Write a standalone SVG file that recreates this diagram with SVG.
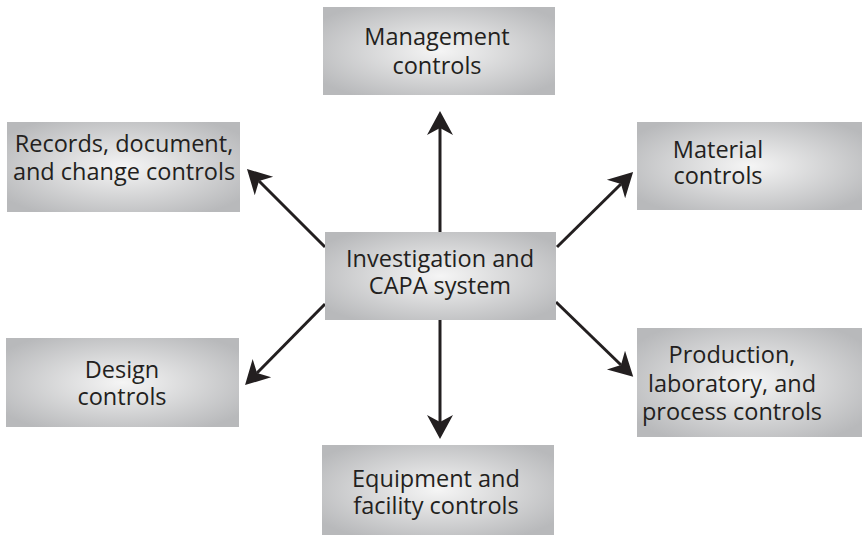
<svg xmlns="http://www.w3.org/2000/svg" width="865" height="535" viewBox="0 0 865 535">
<style>
.box{fill:url(#g);}
.t{font-family:"Open Sans","Noto Sans","Liberation Sans",sans-serif;font-size:23.5px;fill:#231f20;text-anchor:middle;}
.c{stroke:#231f20;stroke-width:3;fill:none;marker-end:url(#ah);}
</style>
<defs>
<radialGradient id="g" cx="0.5" cy="0.5" r="0.62">
<stop offset="0" stop-color="#f5f5f5"/>
<stop offset="1" stop-color="#b8b9bb"/>
</radialGradient>
<marker id="ah" markerUnits="userSpaceOnUse" markerWidth="26" markerHeight="26" refX="7" refY="13" orient="auto" viewBox="0 0 24 26">
<path d="M0,0 L24,13 L0,26 L7,13 Z" fill="#231f20"/>
</marker>
</defs>
<rect width="865" height="535" fill="#ffffff"/>
<g id="connectors">
<line class="c" x1="440" y1="232" x2="440" y2="128"/>
<line class="c" x1="440" y1="320" x2="440" y2="422"/>
<line class="c" x1="325" y1="247" x2="259" y2="181"/>
<line class="c" x1="557" y1="247" x2="621" y2="184"/>
<line class="c" x1="325" y1="304" x2="257" y2="373"/>
<line class="c" x1="556" y1="302" x2="621" y2="365"/>
</g>
<g id="management">
<rect class="box" x="323" y="7" width="232" height="88"/>
<text class="t" x="437" y="45">Management</text>
<text class="t" x="437" y="74">controls</text>
</g>
<g id="records">
<rect class="box" x="7" y="122" width="233" height="90"/>
<text class="t" x="124" y="152">Records, document,</text>
<text class="t" x="124" y="180">and change controls</text>
</g>
<g id="material">
<rect class="box" x="637" y="122" width="225" height="88"/>
<text class="t" x="718" y="158">Material</text>
<text class="t" x="718" y="184">controls</text>
</g>
<g id="investigation">
<rect class="box" x="325" y="232" width="231" height="88"/>
<text class="t" x="440" y="267">Investigation and</text>
<text class="t" x="440" y="294">CAPA system</text>
</g>
<g id="design">
<rect class="box" x="6" y="338" width="233" height="89"/>
<text class="t" x="122" y="378">Design</text>
<text class="t" x="122" y="405">controls</text>
</g>
<g id="production">
<rect class="box" x="637" y="328" width="225" height="109"/>
<text class="t" x="732" y="363">Production,</text>
<text class="t" x="732" y="392">laboratory, and</text>
<text class="t" x="732" y="420">process controls</text>
</g>
<g id="equipment">
<rect class="box" x="322" y="445" width="232" height="90"/>
<text class="t" x="436" y="487">Equipment and</text>
<text class="t" x="436" y="514">facility controls</text>
</g>
</svg>
